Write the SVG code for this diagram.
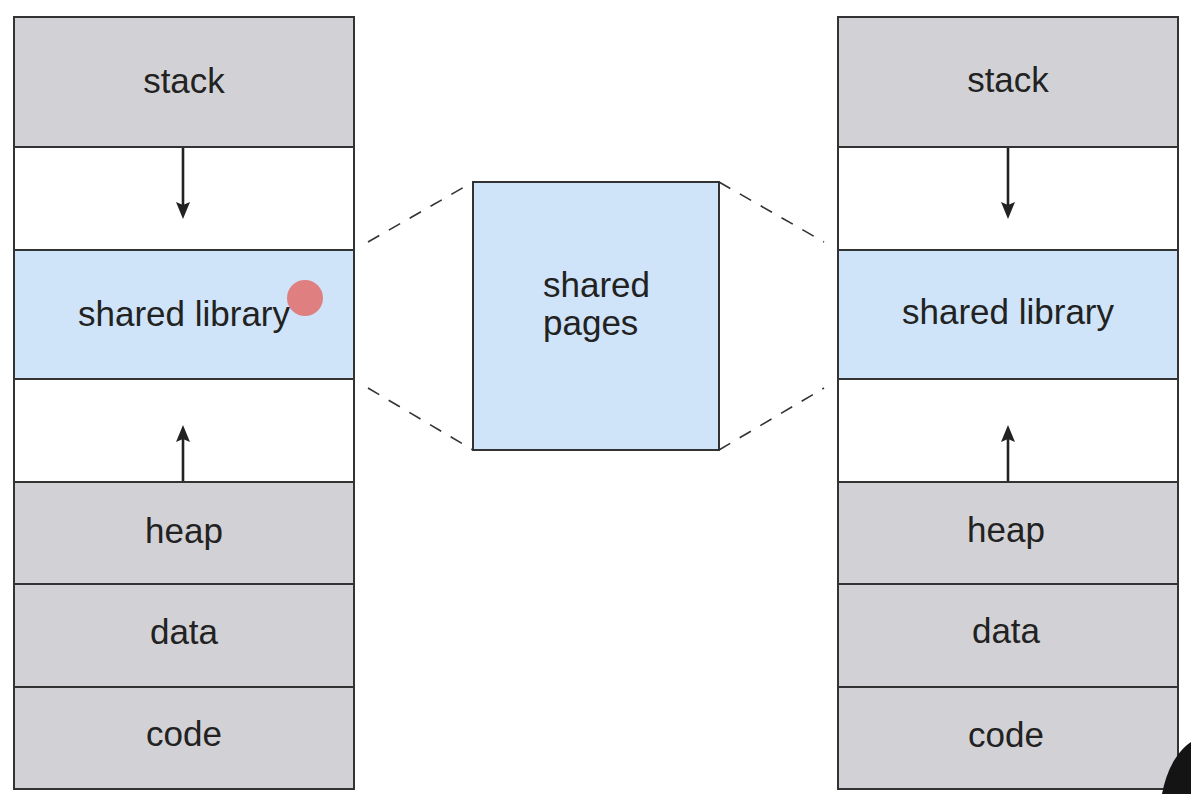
<svg xmlns="http://www.w3.org/2000/svg" width="1191" height="794" viewBox="0 0 1191 794">
  <style>
    .seg { stroke: #333; stroke-width: 2; }
    .gray { fill: #d2d2d6; }
    .blue { fill: #cfe4f8; }
    .free { fill: #ffffff; }
    .lbl { font-family: "Liberation Sans", Arial, sans-serif; font-size: 35px; fill: #222; text-anchor: middle; }
    .lblL { font-family: "Liberation Sans", Arial, sans-serif; font-size: 35px; fill: #222; }
    .dash { stroke: #333; stroke-width: 1.6; stroke-dasharray: 13 11; fill: none; }
    .arr { stroke: #222; stroke-width: 2.6; fill: none; }
  </style>
  <defs>
    <marker id="head" viewBox="0 0 17 14" refX="5" refY="7" markerWidth="17" markerHeight="14" markerUnits="userSpaceOnUse" orient="auto">
      <path d="M0,0 L17,7 L0,14 L3,7 Z" fill="#222"/>
    </marker>
  </defs>
  <rect width="1191" height="794" fill="#ffffff"/>

  <!-- left process address space -->
  <g id="left-space">
    <g id="left-stack"><rect class="seg gray" x="14" y="17" width="340" height="130"/><text class="lbl" x="184" y="93">stack</text></g>
    <g id="left-gap-top"><rect class="seg free" x="14" y="147" width="340" height="103"/></g>
    <g id="left-shared"><rect class="seg blue" x="14" y="250" width="340" height="129"/><text class="lbl" x="184" y="326">shared library</text></g>
    <g id="left-gap-bottom"><rect class="seg free" x="14" y="379" width="340" height="103"/></g>
    <g id="left-heap"><rect class="seg gray" x="14" y="482" width="340" height="102"/><text class="lbl" x="184" y="543">heap</text></g>
    <g id="left-data"><rect class="seg gray" x="14" y="584" width="340" height="103"/><text class="lbl" x="184" y="644">data</text></g>
    <g id="left-code"><rect class="seg gray" x="14" y="687" width="340" height="102"/><text class="lbl" x="184" y="746">code</text></g>
  </g>

  <!-- physical shared pages -->
  <g id="shared-pages">
    <rect class="seg blue" x="473" y="182" width="246" height="268"/>
    <text class="lblL" x="543" y="297">shared</text>
    <text class="lblL" x="543" y="335">pages</text>
  </g>

  <!-- right process address space -->
  <g id="right-space">
    <g id="right-stack"><rect class="seg gray" x="838" y="17" width="340" height="130"/><text class="lbl" x="1008" y="92">stack</text></g>
    <g id="right-gap-top"><rect class="seg free" x="838" y="147" width="340" height="103"/></g>
    <g id="right-shared"><rect class="seg blue" x="838" y="250" width="340" height="129"/><text class="lbl" x="1008" y="324">shared library</text></g>
    <g id="right-gap-bottom"><rect class="seg free" x="838" y="379" width="340" height="103"/></g>
    <g id="right-heap"><rect class="seg gray" x="838" y="482" width="340" height="102"/><text class="lbl" x="1006" y="542">heap</text></g>
    <g id="right-data"><rect class="seg gray" x="838" y="584" width="340" height="103"/><text class="lbl" x="1006" y="643">data</text></g>
    <g id="right-code"><rect class="seg gray" x="838" y="687" width="340" height="102"/><text class="lbl" x="1006" y="747">code</text></g>
  </g>

  <!-- growth arrows and mapping lines -->
  <g id="connectors">
    <line class="arr" x1="183" y1="148" x2="183" y2="207" marker-end="url(#head)"/>
    <line class="arr" x1="183" y1="481" x2="183" y2="437" marker-end="url(#head)"/>
    <line class="arr" x1="1008" y1="148" x2="1008" y2="207" marker-end="url(#head)"/>
    <line class="arr" x1="1008" y1="481" x2="1008" y2="437" marker-end="url(#head)"/>
    <path class="dash" d="M368,242 L473,182"/>
    <path class="dash" d="M368,388 L473,450"/>
    <path class="dash" d="M719,182 L824,242"/>
    <path class="dash" d="M719,450 L824,388"/>
  </g>

  <!-- pointer dot -->
  <circle cx="305" cy="298" r="18" fill="#df7f7f"/>
  <!-- dark corner shape -->
  <path d="M1162,794 C1166,772 1176,752 1191,742 L1191,794 Z" fill="#141414"/>
</svg>
